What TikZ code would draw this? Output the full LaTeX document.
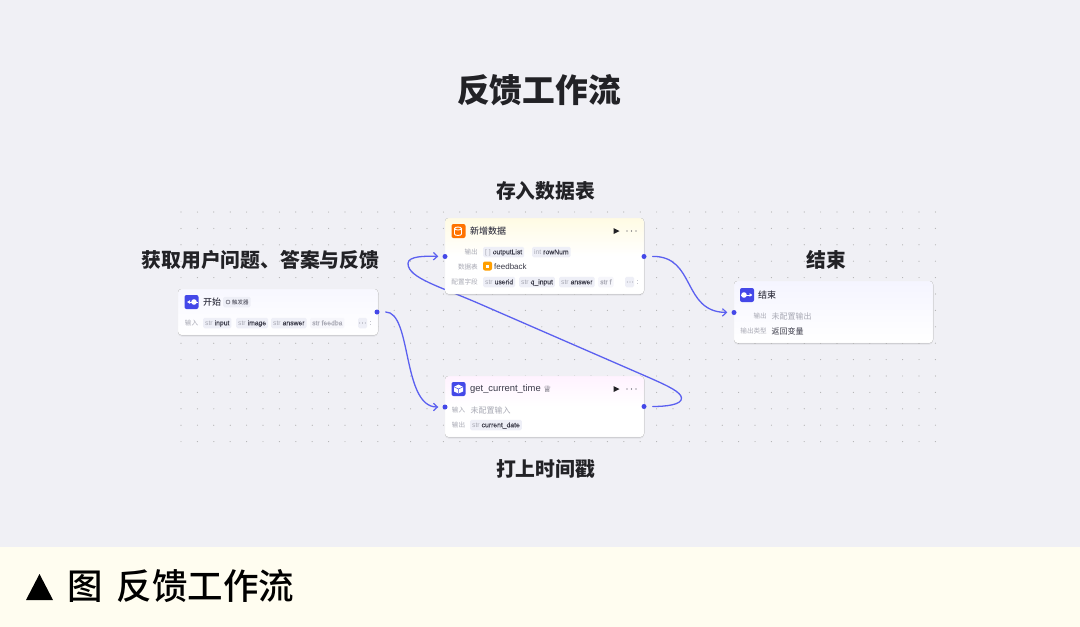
\documentclass[tikz,border=0pt]{standalone}
\usepackage{fontspec}
\setmainfont{Noto Sans CJK SC}
\newfontfamily\med{Noto Sans CJK SC Medium}
\newfontfamily\lat{Liberation Sans}
\newfontfamily\pl[FakeBold=0.12]{Liberation Sans}
\usetikzlibrary{arrows.meta,shadows}
\pgfdeclarelayer{bglayer}
\pgfdeclarelayer{linklayer}
\pgfsetlayers{bglayer,linklayer,main}
\definecolor{bgc}{HTML}{F0F0F5}
\definecolor{foot}{HTML}{FFFDF0}
\definecolor{ink}{HTML}{222226}
\definecolor{link}{HTML}{5B60F0}
\definecolor{port}{HTML}{4448E8}
\definecolor{pillc}{HTML}{EEEFF7}
\definecolor{mut}{HTML}{A8A9B4}
\definecolor{txt}{HTML}{3A3A48}
\tikzset{
  x=1pt,y=-1pt,
  head/.style={font=\bfseries\fontsize{19.8}{20}\selectfont,text=ink,inner sep=0pt,anchor=center},
  cardbox/.style={rounded corners=3.5pt,draw=black!6,line width=.4pt,drop shadow={shadow xshift=0pt,shadow yshift=-1.5pt,opacity=.10,fill=black!60}},
  pill/.style={fill=pillc,rounded corners=1.5pt,text height=6pt,text depth=1.5pt,inner xsep=2pt,inner ysep=1.5pt,anchor=west,font=\pl\fontsize{6.8}{7}\selectfont,text=txt},
  lab/.style={font=\fontsize{6.6}{7}\selectfont,text=mut,inner sep=0pt},
  nm/.style={font=\med\fontsize{9}{10}\selectfont,text=txt,inner sep=0pt,anchor=west},
  icon/.style={rounded corners=2pt,fill=#1,minimum size=14pt,inner sep=0pt,anchor=center,text=white},
  portdot/.style={circle,fill=port,minimum size=5pt,inner sep=0pt},
  conn/.style={draw=link,line width=1.3pt,line cap=round,-{Straight Barb[length=4pt,width=7.5pt,line width=1.2pt]}},
  griddot/.style={fill=black!30},
  moredots/.pic={\foreach \d in {-4.5,0,4.5}{\fill[txt] (\d,0) circle (.7pt);}},
}
\begin{document}
\begin{tikzpicture}
\useasboundingbox (0,0) rectangle (1080,627);
\begin{pgfonlayer}{bglayer}
\fill[bgc] (0,0) rectangle (1080,627);
\fill[foot] (0,547) rectangle (1080,627);
\foreach \i in {0,...,46}{\foreach \j in {0,...,14}{
  \fill[griddot] ({181+16.4*\i},{212+16.4*\j}) circle (.6pt);}}
\end{pgfonlayer}
\node[head,font=\bfseries\fontsize{32.7}{33}\selectfont] (title) at (539,90) {反馈工作流};
\node[head] (t1) at (545.5,191.5) {存入数据表};
\node[head] (t2) at (260.5,259.5) {获取用户问题、答案与反馈};
\node[head] (t3) at (826.5,259.5) {结束};
\node[head] (t4) at (545.5,468.5) {打上时间戳};
% cards
\filldraw[cardbox,top color=white!97!blue,bottom color=white] (178,289) rectangle (378,335);
\filldraw[cardbox,top color=white!92!yellow!97!orange,bottom color=white,middle color=white] (445,218) rectangle (644,294);
\filldraw[cardbox,top color=white!95!magenta,bottom color=white,middle color=white] (445,376) rectangle (644,437);
\filldraw[cardbox,top color=white!96!blue,bottom color=white] (734,281) rectangle (933,343);
% start card
\node[icon=port] (i1) at (191.5,302) {};
\fill[white] (194,302) circle (2.8pt);
\draw[white,line width=1pt,-{Latex[length=3pt,width=4pt]}] (198,302) -- (187,302);
\node[nm] (n1) at (203,302) {开始};
\node[pill,font=\fontsize{5.5}{6}\selectfont,text=txt] (p0) at (223,302) {\hspace*{7pt}触发器};
\draw[txt,line width=.4pt] (228,302) circle (2pt);
\node[lab] (l1) at (191.5,323) {输入};
\node[pill] (p1) at (203,323) {{\lat\color{mut}str} input};
\node[pill] (p2) at (236,323) {{\lat\color{mut}str} image};
\node[pill] (p3) at (271,323) {{\lat\color{mut}str} answer};
\node[pill,fill=pillc!55,text=mut] (p4) at (310,323) {str feedba};
\node[pill,minimum width=9pt] (p5) at (358,323) {};
\pic at (362.5,323) [scale=.6] {moredots};
\fill[mut] (370.5,321.5) circle (.4pt) (370.5,324.5) circle (.4pt);
% add data card
\node[icon=orange!90!red] (i2) at (458.5,231) {};
\draw[white,line width=.9pt] (458,228.5) ellipse (3.5pt and 1.5pt) (454.5,228.5) -- (454.5,234) arc (180:0:3.5pt and -1.5pt) -- (461.5,228.5);
\node[nm] (n2) at (470,231) {新增数据};
\fill[ink] (613.5,228) -- (619.5,231) -- (613.5,234) -- cycle;
\pic at (631.5,231) {moredots};
\node[lab,anchor=east] (l2) at (478,252) {输出};
\node[pill] (p6) at (483,252) {{\lat\color{mut}[ ]} outputList};
\node[pill] (p7) at (532,252) {{\lat\color{mut}int} rowNum};
\node[lab,anchor=east] (l3) at (478,267) {数据表};
\node[icon=orange!75!yellow,minimum size=9pt] (i3) at (487.5,266) {};
\fill[white] (486,264.5) rectangle (489,267.5);
\node[nm,font=\lat\fontsize{8}{9}\selectfont,text=txt] (f1) at (494,266.5) {feedback};
\node[lab,anchor=east] (l4) at (478,282) {配置字段};
\node[pill] (p8) at (483,282) {{\lat\color{mut}str} userid};
\node[pill] (p9) at (519,282) {{\lat\color{mut}str} q\_input};
\node[pill] (p10) at (559,282) {{\lat\color{mut}str} answer};
\node[pill,fill=pillc!55,text=mut] (p11) at (598,282) {str f};
\node[pill,minimum width=9pt] (p12) at (625,282) {};
\pic at (630,282) [scale=.6] {moredots};
\fill[mut] (637.5,280.5) circle (.4pt) (637.5,283.5) circle (.4pt);
% time card
\node[icon=port] (i4) at (458.5,389) {};
\fill[white] (458.5,384.5) -- (463,386.8) -- (463,391.5) -- (458.5,393.5) -- (454,391.5) -- (454,386.8) -- cycle;
\draw[port,line width=.5pt] (454,386.8) -- (458.5,389) -- (463,386.8) (458.5,389) -- (458.5,393.5);
\node[nm,font=\lat\fontsize{9.4}{10}\selectfont] (n4) at (470,389) {get\_current\_time};
\node[inner sep=0pt,font=\fontsize{9}{9}\selectfont,text=txt] (g4) at (547.5,389) {\fontspec{DejaVu Sans}♕};
\fill[ink] (613.5,386) -- (619.5,389) -- (613.5,392) -- cycle;
\pic at (631.5,389) {moredots};
\node[lab] (l5) at (458.5,410) {输入};
\node[lab,anchor=west,font=\fontsize{8}{8}\selectfont] (l6) at (470.5,410) {未配置输入};
\node[lab] (l7) at (458.5,425) {输出};
\node[pill] (p13) at (470,425) {{\lat\color{mut}str} current\_date};
% end card
\node[icon=port] (i5) at (747,295) {};
\fill[white] (744,295) circle (2.8pt);
\draw[white,line width=1pt,-{Latex[length=3pt,width=4pt]}] (741,295) -- (752.5,295);
\node[nm] (n5) at (758,295) {结束};
\node[lab,anchor=east] (l8) at (767,316) {输出};
\node[lab,anchor=west,font=\fontsize{8}{8}\selectfont] (l9) at (771.5,316) {未配置输出};
\node[lab,anchor=east] (l10) at (767,331) {输出类型};
\node[nm,font=\fontsize{8}{8}\selectfont] (l11) at (771.5,331) {返回变量};
% ports
\node[portdot] (s1) at (377,312) {};
\node[portdot] (a1) at (445,256.5) {};
\node[portdot] (a2) at (644,256.5) {};
\node[portdot] (b1) at (445,407) {};
\node[portdot] (b2) at (644,406.5) {};
\node[portdot] (c1) at (734,312.5) {};
% connectors
\begin{pgfonlayer}{linklayer}
\draw[conn,shorten <=6pt,shorten >=4pt] (s1) .. controls (412,312) and (402,407) .. (b1);
\draw[conn,shorten <=6pt,shorten >=4pt] (a2) .. controls (696,256) and (682,312) .. (c1);
\draw[conn,shorten <=6pt,shorten >=4pt] (b2) .. controls (665,406.5) and (682,405) .. (681.5,398) .. controls (681,392) and (668,386) .. (650,378) -- (480,304) .. controls (440,286.5) and (408,278) .. (408,263.5) .. controls (408,256) and (425,256) .. (a1);
\end{pgfonlayer}
% footer
\fill[black] (26,600) -- (39.5,574) -- (53,600) -- cycle;
\node[inner sep=0pt,anchor=west,font=\med\fontsize{35.5}{36}\selectfont,text=black] (cap) at (67,586) {图\hspace{.4em}反馈工作流};
\end{tikzpicture}
\end{document}
